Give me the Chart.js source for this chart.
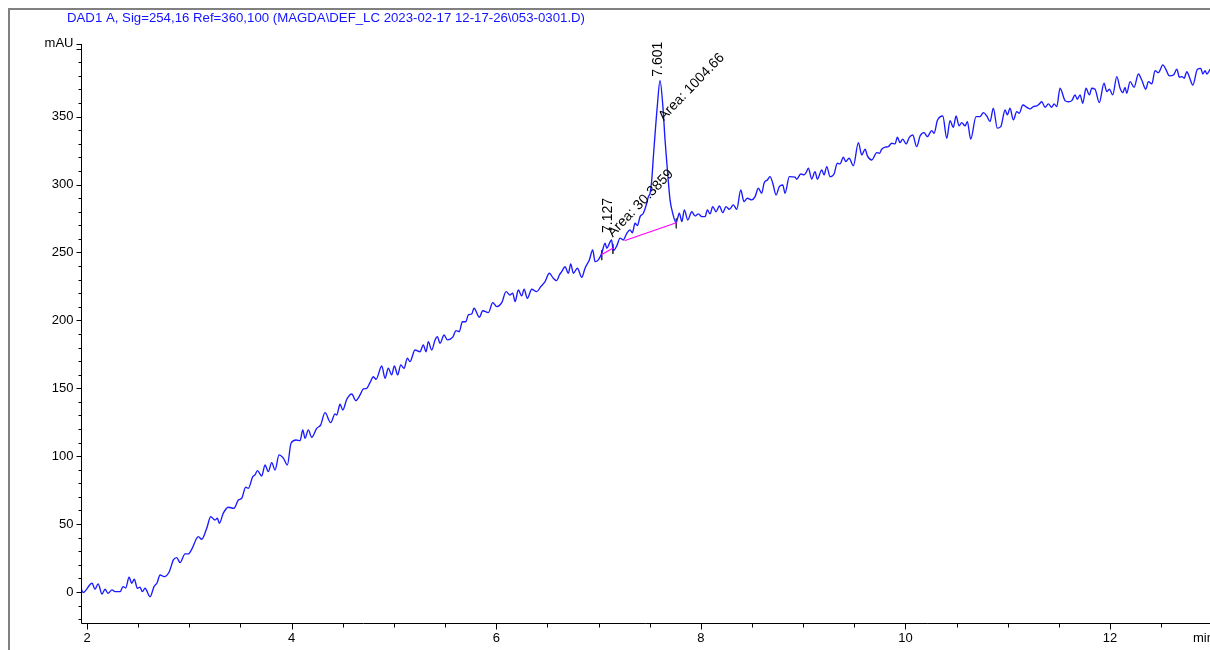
<!DOCTYPE html>
<html>
<head>
<meta charset="utf-8">
<title>DAD1 A chromatogram</title>
<script src="https://cdn.jsdelivr.net/npm/chart.js@4/dist/chart.umd.min.js"></script>
<style>
  html, body { margin: 0; padding: 0; background: #fff; overflow: hidden; }
  #wrap { position: relative; width: 1210px; height: 650px; }
</style>
</head>
<body>
<div id="wrap"><canvas id="c" width="1210" height="650"></canvas></div>
<script>
// Signal trace: retention time (min) and absorbance (mAU)
const times = [
  1.941, 1.961, 2.049, 2.078, 2.108, 2.147, 2.176, 2.205, 2.244, 2.274,
  2.323, 2.352, 2.378, 2.411, 2.437, 2.462, 2.492, 2.518, 2.541, 2.567,
  2.616, 2.655, 2.684, 2.714, 2.753, 2.804, 2.844, 2.877, 2.909, 2.958,
  2.990, 3.023, 3.088, 3.121, 3.170, 3.209, 3.251, 3.274, 3.293, 3.332,
  3.381, 3.437, 3.479, 3.512, 3.551, 3.577, 3.620, 3.642, 3.665, 3.708,
  3.740, 3.772, 3.805, 3.838, 3.877, 3.919, 3.958, 3.994, 4.043, 4.082,
  4.109, 4.131, 4.163, 4.196, 4.245, 4.284, 4.326, 4.382, 4.424, 4.441,
  4.473, 4.500, 4.539, 4.588, 4.627, 4.669, 4.701, 4.734, 4.766, 4.799,
  4.825, 4.881, 4.913, 4.945, 4.978, 5.004, 5.037, 5.066, 5.099, 5.131,
  5.157, 5.206, 5.255, 5.287, 5.314, 5.336, 5.369, 5.402, 5.424, 5.451,
  5.490, 5.522, 5.575, 5.607, 5.639, 5.669, 5.702, 5.727, 5.760, 5.783,
  5.835, 5.868, 5.923, 5.966, 6.005, 6.054, 6.096, 6.135, 6.161, 6.184,
  6.216, 6.249, 6.272, 6.304, 6.347, 6.396, 6.435, 6.477, 6.519, 6.558,
  6.591, 6.617, 6.640, 6.672, 6.705, 6.728, 6.754, 6.793, 6.836, 6.868,
  6.910, 6.943, 6.966, 6.998, 7.031, 7.064, 7.080, 7.127, 7.145, 7.178,
  7.210, 7.242, 7.276, 7.308, 7.330, 7.357, 7.380, 7.406, 7.438, 7.471, 7.487, 7.504,
  7.520, 7.536, 7.574, 7.601, 7.629, 7.650, 7.673, 7.699, 7.725, 7.758,
  7.790, 7.814, 7.839, 7.872, 7.911, 7.943, 7.976, 8.009, 8.041, 8.064,
  8.090, 8.116, 8.149, 8.181, 8.214, 8.246, 8.279, 8.318, 8.351, 8.390,
  8.422, 8.455, 8.498, 8.530, 8.562, 8.595, 8.618, 8.650, 8.676, 8.703,
  8.735, 8.767, 8.801, 8.823, 8.865, 8.921, 8.937, 8.976, 9.009, 9.028,
  9.051, 9.084, 9.116, 9.139, 9.182, 9.204, 9.231, 9.263, 9.302, 9.334,
  9.361, 9.393, 9.417, 9.449, 9.491, 9.540, 9.573, 9.606, 9.628, 9.671,
  9.720, 9.745, 9.768, 9.801, 9.833, 9.866, 9.898, 9.921, 9.947, 9.974,
  10.006, 10.038, 10.071, 10.110, 10.143, 10.182, 10.214, 10.257, 10.280, 10.312,
  10.365, 10.404, 10.436, 10.468, 10.495, 10.524, 10.550, 10.583, 10.605, 10.638,
  10.690, 10.729, 10.762, 10.795, 10.827, 10.859, 10.898, 10.932, 10.974, 10.996,
  11.022, 11.055, 11.088, 11.113, 11.147, 11.186, 11.218, 11.250, 11.283, 11.309,
  11.332, 11.365, 11.397, 11.430, 11.453, 11.479, 11.511, 11.560, 11.592, 11.626,
  11.658, 11.680, 11.707, 11.733, 11.765, 11.798, 11.821, 11.853, 11.895, 11.941,
  11.968, 11.993, 12.026, 12.066, 12.098, 12.124, 12.147, 12.163, 12.196, 12.235,
  12.277, 12.310, 12.349, 12.375, 12.408, 12.440, 12.473, 12.516, 12.548, 12.580,
  12.620, 12.653, 12.678, 12.702, 12.724, 12.751, 12.776, 12.809, 12.854, 12.887,
  12.907, 12.929, 12.946, 12.978
];
const mau = [
  2.9, -0.5, 6.4, 2.0, 5.9, -1.5, 2.0, -1.0, 1.5, 0.2,
  0.2, 3.9, 2.9, 10.8, 6.4, 9.4, 2.7, 3.5, 0.2, 2.7,
  -3.5, 3.9, 6.6, 12.5, 11.3, 14.9, 23.6, 25.3, 21.6, 28.0,
  28.0, 31.4, 40.7, 38.8, 46.9, 55.4, 53.0, 54.3, 50.6, 58.0,
  62.4, 61.6, 67.7, 69.0, 77.1, 76.4, 84.9, 86.2, 89.3, 85.4,
  93.5, 88.6, 95.2, 89.8, 100.9, 98.5, 93.5, 109.5, 111.9, 111.4,
  119.3, 113.2, 119.3, 113.9, 120.5, 123.0, 132.0, 124.7, 131.1, 130.3,
  138.2, 134.0, 141.9, 145.8, 140.9, 145.1, 149.5, 150.0, 154.1, 158.5,
  156.6, 166.4, 157.4, 164.7, 159.8, 166.4, 159.8, 167.2, 164.7, 172.1,
  169.6, 178.2, 176.9, 181.9, 176.9, 184.3, 178.2, 185.6, 188.0, 183.1,
  189.2, 185.6, 187.6, 192.4, 191.7, 199.0, 199.0, 204.0, 204.7, 208.9,
  202.3, 207.1, 205.7, 213.0, 210.1, 213.0, 221.1, 218.7, 220.0, 213.8,
  222.4, 218.0, 222.9, 216.3, 222.9, 221.1, 224.8, 228.5, 234.7, 231.0,
  229.2, 233.4, 235.9, 239.5, 234.7, 241.5, 234.7, 238.4, 231.7, 238.4,
  244.5, 251.8, 243.2, 244.5, 249.4, 256.8, 253.1, 259.2, 251.3, 254.8,
  260.5, 259.2, 264.1, 266.6, 264.5, 271.5, 269.8, 276.4, 278.9, 286.2, 291.1, 293.6,
  303.4, 320.5, 357.4, 376.5, 357.4, 332.8, 310.8, 288.7, 278.9, 271.9,
  278.9, 272.7, 281.3, 273.9, 280.0, 276.9, 278.4, 276.4, 276.4, 281.3,
  278.4, 283.7, 280.0, 284.2, 279.3, 283.7, 281.8, 285.0, 281.8, 296.0,
  287.4, 289.9, 288.7, 291.1, 297.3, 293.6, 301.0, 303.4, 305.8, 301.0,
  292.3, 298.5, 299.7, 293.6, 305.8, 305.4, 303.9, 307.8, 307.1, 308.8,
  312.0, 304.1, 309.5, 303.9, 310.8, 307.1, 313.2, 305.8, 307.8, 315.7,
  315.2, 320.1, 316.9, 319.4, 313.9, 330.9, 321.8, 326.0, 321.1, 318.1,
  323.5, 323.0, 326.0, 327.5, 327.9, 330.4, 329.9, 334.8, 330.9, 333.4,
  329.9, 334.8, 336.5, 327.9, 335.8, 338.2, 335.3, 339.7, 337.8, 347.1,
  350.5, 334.1, 347.1, 342.2, 350.5, 343.2, 345.6, 343.2, 346.3, 333.4,
  350.0, 350.0, 353.0, 350.5, 346.3, 356.2, 341.5, 342.6, 354.9, 351.3,
  356.2, 347.6, 353.7, 352.5, 358.6, 356.9, 355.7, 357.4, 357.9, 359.4,
  361.0, 356.9, 359.4, 356.9, 359.4, 357.4, 370.9, 361.8, 361.0, 361.8,
  366.0, 362.8, 366.0, 359.9, 370.9, 366.0, 370.9, 370.2, 360.3, 374.6,
  368.4, 370.2, 366.0, 379.5, 370.9, 367.7, 371.6, 367.2, 375.8, 371.6,
  381.4, 377.0, 370.2, 375.8, 374.1, 383.9, 382.4, 388.1, 384.4, 380.0,
  380.7, 384.9, 379.0, 379.5, 378.3, 383.1, 379.0, 373.3, 384.9, 385.6,
  381.4, 383.9, 381.4, 384.9
];

// Integrated peaks
const peakTimes = [7.127, 7.601];
const peakHeights = [259.2, 376.5];
const peakAreas = ['30.3859', '1004.66'];

// Integration baselines
const baselineStartTimes = [7.031, 7.259];
const baselineStartMau = [248.5, 258.8];
const baselineEndTimes = [7.140, 7.760];
const baselineEndMau = [253.1, 271.9];

// Axis ticks
const xTickLabels = [2, 4, 6, 8, 10, 12];
const yTickLabels = [0, 50, 100, 150, 200, 250, 300, 350];
const xUnit = 'min';
const yUnit = 'mAU';
const titleText = 'DAD1 A, Sig=254,16 Ref=360,100 (MAGDA\\DEF_LC 2023-02-17 12-17-26\\053-0301.D)';

const X_MIN = 1.941, X_MAX = 12.977;
const Y_MIN = -23.6, Y_MAX = 403.5;

const FONT = '"Liberation Sans", Arial, sans-serif';
const TRACE_BLUE = '#1a1aff';
const BASE_PINK = '#ff00ff';

const signal = times.map((t, i) => ({ x: t, y: mau[i] }));

const datasets = [{
  label: 'DAD1 A',
  data: signal,
  borderColor: TRACE_BLUE,
  borderWidth: 1.35,
  pointRadius: 0,
  cubicInterpolationMode: 'monotone',
  order: 1
}];

baselineStartTimes.forEach((t0, i) => {
  datasets.push({
    label: 'baseline ' + (i + 1),
    data: [{ x: t0, y: baselineStartMau[i] }, { x: baselineEndTimes[i], y: baselineEndMau[i] }],
    borderColor: BASE_PINK,
    borderWidth: 1.2,
    pointRadius: 0,
    order: 0
  });
});

// Short vertical markers at the peak start/end points
const markTimes = [baselineStartTimes[0], baselineEndTimes[0], baselineEndTimes[1]];
const markMau = [baselineStartMau[0], baselineEndMau[0], baselineEndMau[1]];
markTimes.forEach((t, i) => {
  datasets.push({
    label: 'mark ' + (i + 1),
    data: [{ x: t, y: markMau[i] + 3 }, { x: t, y: markMau[i] - 4 }],
    borderColor: '#333',
    borderWidth: 1,
    pointRadius: 0,
    order: 2
  });
});

const chromPlugin = {
  id: 'chromFrame',
  afterDraw(chart) {
    const { ctx, chartArea: a, scales } = chart;
    const xs = scales.x, ys = scales.y;
    ctx.save();

    // outer page frame
    ctx.strokeStyle = '#808080';
    ctx.lineWidth = 2;
    ctx.beginPath();
    ctx.moveTo(9, 650);
    ctx.lineTo(9, 9);
    ctx.lineTo(1210, 9);
    ctx.stroke();

    // title
    ctx.fillStyle = '#1414ff';
    ctx.font = '13px ' + FONT;
    ctx.textBaseline = 'middle';
    ctx.textAlign = 'left';
    const tw = ctx.measureText(titleText).width;
    const targetW = 518;
    ctx.save();
    ctx.translate(67, 18);
    ctx.scale(targetW / tw, 1);
    ctx.fillText(titleText, 0, 0);
    ctx.restore();

    // axis lines
    ctx.strokeStyle = '#000';
    ctx.lineWidth = 1;
    const ax = Math.round(a.left) + 0.5;
    const ay = Math.round(a.bottom) - 0.5;
    ctx.beginPath();
    ctx.moveTo(ax, ys.getPixelForValue(Y_MAX));
    ctx.lineTo(ax, ay);
    ctx.lineTo(a.right, ay);
    ctx.stroke();

    // y ticks
    ctx.fillStyle = '#000';
    ctx.font = '13px ' + FONT;
    ctx.textAlign = 'right';
    ctx.textBaseline = 'middle';
    for (let v = -20; v <= 400; v += 10) {
      const py = Math.round(ys.getPixelForValue(v)) + 0.5;
      const major = v % 50 === 0;
      ctx.beginPath();
      ctx.moveTo(ax - (major ? 5 : 3), py);
      ctx.lineTo(ax, py);
      ctx.stroke();
    }
    yTickLabels.forEach(v => {
      ctx.fillText(String(v), ax - 8, ys.getPixelForValue(v));
    });
    const pyTop = Math.round(ys.getPixelForValue(Y_MAX)) + 0.5;
    ctx.beginPath();
    ctx.moveTo(ax - 5, pyTop);
    ctx.lineTo(ax, pyTop);
    ctx.stroke();
    ctx.fillText(yUnit, ax - 8, pyTop - 1);

    // x ticks
    for (let t = 2; t <= 13.0001; t += 0.5) {
      const px = Math.round(xs.getPixelForValue(t)) + 0.5;
      const major = xTickLabels.some(l => Math.abs(l - t) < 1e-6);
      ctx.beginPath();
      ctx.moveTo(px, ay);
      ctx.lineTo(px, ay + (major ? 6 : 4));
      ctx.stroke();
    }
    ctx.textAlign = 'center';
    ctx.textBaseline = 'top';
    xTickLabels.forEach(t => {
      ctx.fillText(String(t), xs.getPixelForValue(t), ay + 8);
    });
    ctx.textAlign = 'left';
    ctx.fillText(xUnit, 1193, ay + 8);

    // peak annotations
    ctx.font = '14px ' + FONT;
    ctx.fillStyle = '#000';
    ctx.textBaseline = 'middle';
    ctx.textAlign = 'left';
    peakTimes.forEach((t, i) => {
      const px = xs.getPixelForValue(t);
      const py = ys.getPixelForValue(peakHeights[i]);
      const big = i === 1;
      // retention time, vertical
      ctx.save();
      ctx.translate(px - (big ? 1.5 : 3.5), py - (big ? 4 : 7));
      ctx.rotate(-Math.PI / 2);
      ctx.fillText(t.toFixed(3), 0, 0);
      ctx.restore();
      // area, slanted
      ctx.save();
      if (big) ctx.translate(px + 1, py + 38);
      else ctx.translate(px - 1.5, py - 5);
      ctx.rotate(-46 * Math.PI / 180);
      ctx.fillText('Area: ' + peakAreas[i], 0, 0);
      ctx.restore();
    });

    ctx.restore();
  }
};

new Chart(document.getElementById('c'), {
  type: 'line',
  data: { datasets },
  options: {
    responsive: false,
    animation: false,
    devicePixelRatio: 1,
    layout: { padding: { left: 81, top: 44, right: 0, bottom: 26 } },
    plugins: { legend: { display: false }, tooltip: { enabled: false }, title: { display: false } },
    scales: {
      x: { type: 'linear', min: X_MIN, max: X_MAX, display: false },
      y: { type: 'linear', min: Y_MIN, max: Y_MAX, display: false }
    },
    elements: { line: { borderJoinStyle: 'round', borderCapStyle: 'round' } }
  },
  plugins: [chromPlugin]
});
</script>
</body>
</html>
